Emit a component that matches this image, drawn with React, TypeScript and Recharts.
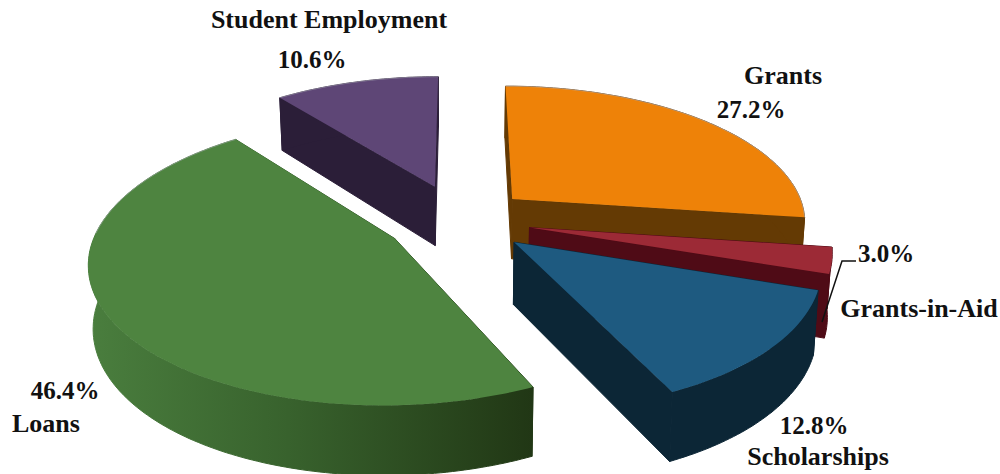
import { Pie, PieChart } from "recharts";

const categories = ["Grants", "Grants-in-Aid", "Scholarships", "Loans", "Student Employment"];
const shares = [27.2, 3.0, 12.8, 46.4, 10.6];

const topColors = ["#EE8208", "#9C2A36", "#1E5A80", "#4E8440", "#5E4676"];
const wallColors = ["#643A04", "#4F0B16", "#0C2636", "url(#loansWall)", "#2B1E38"];
const explode = [0.24, 0.24, 0.24, 0.255, 0.27];

// label anchors: [name x, name y, value x, value y]
const labelSpots: Record<string, number[]> = {
  Grants: [783, 84, 751, 118],
  "Grants-in-Aid": [919, 317, 886, 262],
  Scholarships: [818, 465, 814, 434],
  Loans: [46, 432, 65, 399],
  "Student Employment": [329, 28, 312, 68],
};

const SQUASH = 0.46;
const PERSPECTIVE = 0.15;
const BOTTOM_SHRINK = 0.987;

// point on the pie's plane (radius 1 = rim), seen from above and in front
function project(R: number, U: number, V: number) {
  const w = 1 - PERSPECTIVE * V;
  return { x: (R * U) / w, y: (R * SQUASH * V) / w, V };
}

const toPath = (pts: { x: number; y: number }[]) =>
  "M" + pts.map((p) => `${p.x.toFixed(1)},${p.y.toFixed(1)}`).join("L") + "Z";

function Slice3D(props: any) {
  const { cx, cy, outerRadius, startAngle, endAngle, index } = props;
  const rad = (d: number) => (d * Math.PI) / 180;
  const mid = rad((startAngle + endAngle) / 2);
  const e = explode[index];
  const U0 = e * Math.cos(mid);
  const V0 = -e * Math.sin(mid);

  const place = (U: number, V: number) => {
    const p = project(outerRadius, U, V);
    return { x: cx + p.x, y: cy + p.y, V };
  };
  // bottom face: same outline pushed down, a little narrower
  const drop = (p: { x: number; y: number; V: number }) => ({
    x: cx + (p.x - cx) * BOTTOM_SHRINK,
    y: p.y + 61 + 8 * p.V,
  });

  const apex = place(U0, V0);
  const rim: { x: number; y: number; V: number }[] = [];
  const steps = Math.max(2, Math.ceil(Math.abs(startAngle - endAngle)));
  for (let i = 0; i <= steps; i++) {
    const a = rad(startAngle + ((endAngle - startAngle) * i) / steps);
    rim.push(place(U0 + Math.cos(a), V0 - Math.sin(a)));
  }
  const apexLow = drop(apex);
  const rimLow = rim.map(drop);
  const wall = wallColors[index];
  // only the far part of the rim catches the light
  const backRim = rim.filter((p) => p.V < 0.1);

  return (
    <g>
      <g stroke={wall} strokeWidth={1} strokeLinejoin="round" fill={wall}>
        <path d={toPath([apex, rim[0], rimLow[0], apexLow])} />
        <path d={toPath([apex, rim[rim.length - 1], rimLow[rimLow.length - 1], apexLow])} />
        <path d={toPath([...rim, ...rimLow.slice().reverse()])} />
      </g>
      <path d={toPath([apex, ...rim])} fill={topColors[index]} />
      {backRim.length > 1 && (
        <polyline
          points={backRim.map((p) => `${p.x.toFixed(1)},${p.y.toFixed(1)}`).join(" ")}
          fill="none"
          stroke="#b8b8c4"
          strokeOpacity={0.5}
        />
      )}
    </g>
  );
}

function SliceLabel(props: any) {
  const { index } = props;
  const name = categories[index];
  const [nx, ny, vx, vy] = labelSpots[name];
  const font = { fontFamily: "'Liberation Serif', serif", fontWeight: 700, fill: "#111" };
  return (
    <g>
      <text x={nx} y={ny} textAnchor="middle" fontSize={26} {...font}>{name}</text>
      <text x={vx} y={vy} textAnchor="middle" fontSize={25} {...font}>{shares[index].toFixed(1)}%</text>
      {name === "Grants-in-Aid" && (
        <polyline points="822,322 842,261 856,261" fill="none" stroke="#111" strokeWidth={1.5} />
      )}
    </g>
  );
}

const rows = categories.map((name, i) => ({ name, value: shares[i] }));

export default function App() {
  return (
    <div style={{ position: "absolute", left: 0, top: 0 }}>
      <PieChart width={1000} height={474} margin={{ top: 0, right: 0, bottom: 0, left: 0 }}>
        <defs>
          <linearGradient id="loansWall" gradientUnits="userSpaceOnUse" x1={88} y1={0} x2={532} y2={0}>
            <stop offset="0%" stopColor="#4A7E3E" />
            <stop offset="45%" stopColor="#38622D" />
            <stop offset="100%" stopColor="#213715" />
          </linearGradient>
        </defs>
        <Pie
          data={rows}
          dataKey="value"
          nameKey="name"
          cx={460}
          cy={220}
          outerRadius={295}
          startAngle={90}
          endAngle={-270}
          stroke="none"
          shape={Slice3D}
          label={SliceLabel}
          labelLine={false}
          isAnimationActive={false}
        />
      </PieChart>
    </div>
  );
}
